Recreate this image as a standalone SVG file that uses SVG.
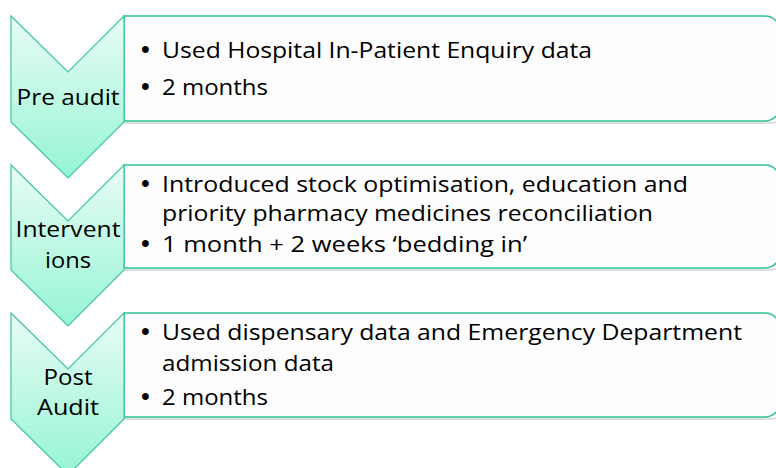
<svg xmlns="http://www.w3.org/2000/svg" width="776" height="468" viewBox="0 0 776 468">
<defs>
<linearGradient id="g" x1="0" y1="0" x2="0" y2="1">
<stop offset="0" stop-color="#E8FCF5"/>
<stop offset="1" stop-color="#96F5D3"/>
</linearGradient>
<style>
.box{fill:#FDFDFD;stroke:#2EC497;stroke-width:1.5}
.shadow{fill:none;stroke:#D4D4D4;stroke-width:1.5}
.chev{fill:url(#g);stroke:#3CC79E;stroke-width:1.2;stroke-linejoin:miter}
text{font-family:"Open Sans","Noto Sans","Liberation Sans",sans-serif;font-size:22.5px;fill:#000}
.lbl{text-anchor:middle}
.b{font-family:"Liberation Sans",Arial,sans-serif;font-size:25px}
</style>
</defs>
<g id="node-pre-audit">
<path class="shadow" d="M124,123 H765 Q779,123 781,119"/>
<path class="box" d="M124,16 H765 A15,15 0 0 1 780,31 V106 A15,15 0 0 1 765,121 H124 Z"/>
<path class="chev" d="M11,16 L68,72 L124,16 L124,122 L68,178 L11,122 Z"/>
<text class="lbl" x="68" y="105" textLength="103" lengthAdjust="spacingAndGlyphs">Pre audit</text>
<text class="b" x="141" y="58">•</text>
<text x="162" y="58" textLength="430" lengthAdjust="spacingAndGlyphs">Used Hospital In-Patient Enquiry data</text>
<text class="b" x="141" y="95">•</text>
<text x="162" y="95" textLength="106" lengthAdjust="spacingAndGlyphs">2 months</text>
</g>
<g id="node-interventions">
<path class="shadow" d="M124,270 H765 Q779,270 781,266"/>
<path class="box" d="M124,165 H765 A15,15 0 0 1 780,180 V253 A15,15 0 0 1 765,268 H124 Z"/>
<path class="chev" d="M11,165 L68,221 L124,165 L124,270 L68,326 L11,270 Z"/>
<text class="lbl" x="68" y="237" textLength="105" lengthAdjust="spacingAndGlyphs">Intervent</text>
<text class="lbl" x="68" y="268" textLength="46" lengthAdjust="spacingAndGlyphs">ions</text>
<text class="b" x="141" y="192">•</text>
<text x="162" y="192" textLength="526" lengthAdjust="spacingAndGlyphs">Introduced stock optimisation, education and</text>
<text x="162" y="221" textLength="491" lengthAdjust="spacingAndGlyphs">priority pharmacy medicines reconciliation</text>
<text class="b" x="141" y="252">•</text>
<text x="162" y="252" textLength="365" lengthAdjust="spacingAndGlyphs">1 month + 2 weeks ‘bedding in’</text>
</g>
<g id="node-post-audit">
<path class="shadow" d="M124,419 H765 Q779,419 781,415"/>
<path class="box" d="M124,313 H765 A15,15 0 0 1 780,328 V402 A15,15 0 0 1 765,417 H124 Z"/>
<path class="chev" d="M11,313 L68,369 L124,313 L124,419 L68,475 L11,419 Z"/>
<text class="lbl" x="68" y="385" textLength="49" lengthAdjust="spacingAndGlyphs">Post</text>
<text class="lbl" x="68" y="415" textLength="62" lengthAdjust="spacingAndGlyphs">Audit</text>
<text class="b" x="141" y="340">•</text>
<text x="162" y="340" textLength="580" lengthAdjust="spacingAndGlyphs">Used dispensary data and Emergency Department</text>
<text x="162" y="371" textLength="172" lengthAdjust="spacingAndGlyphs">admission data</text>
<text class="b" x="141" y="405">•</text>
<text x="162" y="405" textLength="106" lengthAdjust="spacingAndGlyphs">2 months</text>
</g>
<g id="connectors"/>
</svg>
